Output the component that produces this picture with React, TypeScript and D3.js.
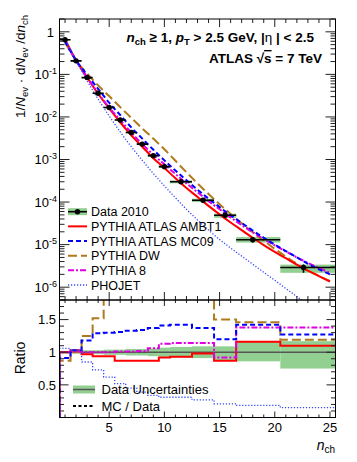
import React from 'react';
import * as d3 from 'd3';

// multiplicity points where the MC curves are read
const nValues = [1, 2, 3, 4, 5, 6, 7, 8, 9, 10, 11, 12, 13, 14, 15, 16, 17, 18, 19, 20, 21, 22, 23, 24, 25];

// MC predictions, 1/Nev dNev/dnch
const ambt1 = [0.661, 0.215, 0.0851, 0.035, 0.0158, 0.0075, 0.00372, 0.002, 0.00107, 6.31e-4, 3.63e-4, 2.14e-4, 1.32e-4, 8.13e-5, 5.13e-5, 3.31e-5, 2.19e-5, 1.45e-5, 9.77e-6, 6.76e-6, 4.79e-6, 3.39e-6, 2.45e-6, 1.82e-6, 1.35e-6];
const mc09 = [0.589, 0.214, 0.0977, 0.0457, 0.0216, 0.0111, 0.00569, 0.00309, 0.0017, 9.55e-4, 5.5e-4, 3.24e-4, 1.95e-4, 1.2e-4, 7.59e-5, 4.9e-5, 3.24e-5, 2.14e-5, 1.45e-5, 1.0e-5, 7.08e-6, 5.01e-6, 3.55e-6, 2.63e-6, 2.0e-6];
const dw = [0.566, 0.209, 0.105, 0.055, 0.0309, 0.017, 0.00955, 0.00537, 0.00309, 0.00174, 9.33e-4, 5.01e-4, 2.75e-4, 1.55e-4, 8.91e-5, 5.25e-5, 3.16e-5, 1.95e-5, 1.23e-5, 7.94e-6, 5.25e-6, 3.55e-6, 2.45e-6, 1.82e-6, 1.41e-6];
const pythia8 = [0.646, 0.209, 0.0841, 0.0363, 0.0166, 0.00851, 0.00427, 0.00229, 0.0013, 7.76e-4, 4.57e-4, 2.75e-4, 1.7e-4, 1.05e-4, 6.76e-5, 4.37e-5, 2.88e-5, 1.95e-5, 1.35e-5, 9.55e-6, 6.92e-6, 5.01e-6, 3.72e-6, 2.82e-6, 2.19e-6];
const phojet = [0.692, 0.214, 0.0708, 0.0263, 0.0105, 0.00447, 0.002, 9.55e-4, 4.68e-4, 2.4e-4, 1.26e-4, 6.76e-5, 3.8e-5, 2.19e-5, 1.32e-5, 8.32e-6, 5.37e-6, 3.47e-6, 2.24e-6, 1.45e-6, 9.33e-7, 6.03e-7, 3.89e-7];

// data bins
const binLo = [0.5, 1.5, 2.5, 3.5, 4.5, 5.5, 6.5, 7.5, 8.5, 9.5, 10.5, 12.5, 14.5, 16.5, 20.5];
const binHi = [1.5, 2.5, 3.5, 4.5, 5.5, 6.5, 7.5, 8.5, 9.5, 10.5, 12.5, 14.5, 16.5, 20.5, 25.5];
const dataN = [1, 2, 3, 4, 5, 6, 7, 8, 9, 10, 11.5, 13.5, 15.5, 18, 22.6];
const dataY = [0.65, 0.208, 0.084, 0.036, 0.0166, 0.0085, 0.0043, 0.0023, 0.00123, 6.8e-4, 3.0e-4, 1.1e-4, 4.9e-5, 1.3e-5, 2.9e-6];
const uncLo = [0.98, 0.98, 0.97, 0.97, 0.96, 0.96, 0.95, 0.95, 0.94, 0.93, 0.92, 0.91, 0.87, 0.86, 0.75];
const uncHi = [1.02, 1.02, 1.03, 1.03, 1.04, 1.04, 1.05, 1.05, 1.06, 1.07, 1.08, 1.09, 1.09, 1.16, 1.17];

// MC / data per bin
const ambt1Ratio = [1.0, 1.03, 0.97, 0.94, 0.94, 0.87, 0.87, 0.87, 0.87, 0.92, 0.93, 0.98, 0.87, 1.16, 1.10];
const mc09Ratio = [0.91, 1.03, 1.18, 1.29, 1.30, 1.31, 1.33, 1.34, 1.37, 1.41, 1.42, 1.37, 1.20, 1.42, 1.27];
const dwRatio = [0.87, 1.0, 1.25, 1.52, 1.9, 2.0, 2.1, 2.2, 2.3, 2.4, 2.2, 1.95, 1.50, 1.46, 1.19];
const p8Ratio = [1.0, 1.01, 1.0, 1.0, 1.0, 1.01, 1.01, 1.02, 1.06, 1.13, 1.14, 1.14, 0.92, 1.38, 1.38];
const phojetRatio = [1.06, 1.03, 0.85, 0.73, 0.62, 0.52, 0.45, 0.39, 0.34, 0.31, 0.31, 0.27, 0.21, 0.185, 0.15];

const yDecades = [0, -1, -2, -3, -4, -5, -6];
const ratioTickLabels = [0.5, 1, 1.5];
const xTickLabels = [5, 10, 15, 20, 25];

const FONT = 'Liberation Sans, Arial, Helvetica, sans-serif';
const GREEN = '#92d092';

const models = [
  { name: 'PYTHIA ATLAS AMBT1', values: ambt1, ratio: ambt1Ratio, color: '#ff0000', dash: '', width: 2 },
  { name: 'PYTHIA ATLAS MC09', values: mc09, ratio: mc09Ratio, color: '#0000ff', dash: '5,3', width: 2 },
  { name: 'PYTHIA DW', values: dw, ratio: dwRatio, color: '#b07a1a', dash: '9,4', width: 2 },
  { name: 'PYTHIA 8', values: pythia8, ratio: p8Ratio, color: '#e000e0', dash: '6,2,2,2', width: 2 },
  { name: 'PHOJET', values: phojet, ratio: phojetRatio, color: '#3344ff', dash: '1.2,1.8', width: 1.3 },
];
const drawOrder = [2, 0, 3, 1, 4];

export default function App() {
  const left = 59.5, right = 335.5, top = 19, mid = 300, bottom = 417.5;

  const x = d3.scaleLinear().domain([0.5, 25.5]).range([left, right]);
  const yTop = d3.scaleLog().domain([5e-7, 2]).range([mid, top]);
  const yRat = d3.scaleLinear().domain([0, 1.8]).range([bottom, mid]);

  // log minor ticks
  const logTicks: { v: number; major: boolean }[] = [];
  for (let e = -7; e <= 0; e++) {
    for (let m = 1; m <= 9; m++) {
      const v = m * Math.pow(10, e);
      if (v >= 5e-7 && v <= 2) logTicks.push({ v, major: m === 1 });
    }
  }
  const ratioTicks = d3.range(1, 18).map(k => ({ v: k / 10, major: k % 5 === 0 }));
  const xTicks = d3.range(1, 26).map(n => ({ v: n, major: n % 5 === 0 }));

  const curve = (vals: number[]) =>
    d3.line<number>()
      .x((d, i) => x(nValues[i]))
      .y(d => yTop(d))
      .curve(d3.curveCatmullRom)(vals) || '';

  const step = (r: number[]) => {
    const pts: [number, number][] = [[binLo[0], 0]];
    r.forEach((v, i) => { pts.push([binLo[i], v]); pts.push([binHi[i], v]); });
    return d3.line<[number, number]>().x(d => x(d[0])).y(d => yRat(d[1]))(pts) || '';
  };

  const legendY = (i: number) => 211.7 + i * 14.66;

  return (
    <svg width={357} height={462} style={{ position: 'absolute', left: 0, top: 0, background: '#fff' }} fontFamily={FONT}>
      <defs>
        <clipPath id="clipTop"><rect x={left} y={top} width={right - left} height={mid - top} /></clipPath>
        <clipPath id="clipRat"><rect x={left} y={mid} width={right - left} height={bottom - mid} /></clipPath>
      </defs>
      <rect width={357} height={462} fill="#fff" />

      {/* top panel */}
      <g clipPath="url(#clipTop)">
        {dataY.map((v, i) => (
          <rect key={'gb' + i} x={x(binLo[i])} width={x(binHi[i]) - x(binLo[i])}
            y={yTop(v * uncHi[i])} height={Math.max(1, yTop(v * uncLo[i]) - yTop(v * uncHi[i]))} fill={GREEN} />
        ))}
        {drawOrder.map(k => {
          const m = models[k];
          return <path key={'c' + k} d={curve(m.values)} fill="none" stroke={m.color} strokeWidth={m.width} strokeDasharray={m.dash} />;
        })}
        {dataY.map((v, i) => (
          <g key={'d' + i}>
            <line x1={x(binLo[i])} x2={x(binHi[i])} y1={yTop(v)} y2={yTop(v)} stroke="#000" strokeWidth={1.6} />
            <line x1={x(dataN[i])} x2={x(dataN[i])} y1={yTop(v * uncHi[i])} y2={yTop(v * uncLo[i])} stroke="#000" strokeWidth={1.6} />
            <circle cx={x(dataN[i])} cy={yTop(v)} r={2.7} fill="#000" />
          </g>
        ))}
      </g>

      {/* ratio panel */}
      <g clipPath="url(#clipRat)">
        {uncLo.map((lo, i) => (
          <rect key={'rb' + i} x={x(binLo[i])} width={x(binHi[i]) - x(binLo[i])}
            y={yRat(uncHi[i])} height={yRat(lo) - yRat(uncHi[i])} fill={GREEN} />
        ))}
        <line x1={left} x2={right} y1={yRat(1)} y2={yRat(1)} stroke="#555" strokeWidth={1.5} />
        {drawOrder.map(k => {
          const m = models[k];
          return <path key={'r' + k} d={step(m.ratio)} fill="none" stroke={m.color} strokeWidth={m.width} strokeDasharray={m.dash} />;
        })}
      </g>

      {/* ticks */}
      <g stroke="#222" strokeWidth={1}>
        {logTicks.map((t, i) => (
          <g key={'lt' + i}>
            <line x1={left} x2={left + (t.major ? 10 : 5)} y1={yTop(t.v)} y2={yTop(t.v)} />
            <line x1={right} x2={right - (t.major ? 10 : 5)} y1={yTop(t.v)} y2={yTop(t.v)} />
          </g>
        ))}
        {ratioTicks.map((t, i) => (
          <g key={'rt' + i}>
            <line x1={left} x2={left + (t.major ? 9 : 4.5)} y1={yRat(t.v)} y2={yRat(t.v)} />
            <line x1={right} x2={right - (t.major ? 9 : 4.5)} y1={yRat(t.v)} y2={yRat(t.v)} />
          </g>
        ))}
        {xTicks.map((t, i) => (
          <g key={'xt' + i}>
            <line x1={x(t.v)} x2={x(t.v)} y1={top} y2={top + (t.major ? 8 : 4)} />
            <line x1={x(t.v)} x2={x(t.v)} y1={mid} y2={mid - (t.major ? 8 : 4)} />
            <line x1={x(t.v)} x2={x(t.v)} y1={mid} y2={mid + (t.major ? 6 : 3)} />
            <line x1={x(t.v)} x2={x(t.v)} y1={bottom} y2={bottom - (t.major ? 6 : 3)} />
          </g>
        ))}
      </g>

      {/* frames */}
      <rect x={left} y={top} width={right - left} height={mid - top} fill="none" stroke="#000" strokeWidth={1} />
      <rect x={left} y={mid} width={right - left} height={bottom - mid} fill="none" stroke="#000" strokeWidth={1} />

      {/* tick labels */}
      <g fontSize={13} fill="#000">
        {yDecades.map(e => (
          e === 0
            ? <text key={'yl' + e} x={54} y={yTop(1) + 4.7} textAnchor="end">1</text>
            : <text key={'yl' + e} x={57} y={yTop(Math.pow(10, e)) + 4.7} textAnchor="end">10<tspan dy={-5} fontSize={9}>{String(e)}</tspan></text>
        ))}
        {ratioTickLabels.map(v => (
          <text key={'rl' + v} x={56} y={yRat(v) + 4.7} textAnchor="end">{String(v)}</text>
        ))}
        {xTickLabels.map(v => (
          <text key={'xl' + v} x={x(v)} y={431.5} textAnchor="middle">{String(v)}</text>
        ))}
      </g>

      {/* axis titles */}
      <text transform="translate(25,15) rotate(-90)" textAnchor="end" fontSize={13.5}>
        1/<tspan fontStyle="italic">N</tspan><tspan fontSize={9.5} dy={3}>ev</tspan><tspan dy={-3}> · d</tspan><tspan fontStyle="italic">N</tspan><tspan fontSize={9.5} dy={3}>ev</tspan><tspan dy={-3}> /d</tspan><tspan fontStyle="italic">n</tspan><tspan fontSize={9.5} dy={3}>ch</tspan>
      </text>
      <text transform="translate(25,358) rotate(-90)" textAnchor="middle" fontSize={14}>Ratio</text>
      <text x={335} y={450} textAnchor="end" fontSize={14}>
        <tspan fontStyle="italic">n</tspan><tspan fontSize={10} dy={3}>ch</tspan>
      </text>

      {/* header */}
      <text x={314} y={42} textAnchor="end" fontSize={13.5} fontWeight="bold">
        <tspan fontStyle="italic">n</tspan><tspan fontSize={9.5} dy={3}>ch</tspan><tspan dy={-3}> ≥ 1, </tspan><tspan fontStyle="italic">p</tspan><tspan fontSize={9.5} dy={3}>T</tspan><tspan dy={-3}> &gt; 2.5 GeV, |</tspan><tspan fontWeight="normal">η</tspan><tspan> | &lt; 2.5</tspan>
      </text>
      <text x={322} y={63} textAnchor="end" fontSize={13.5} fontWeight="bold">
        ATLAS √<tspan style={{ textDecoration: 'overline' }}>s</tspan> = 7 TeV
      </text>

      {/* top legend */}
      <g fontSize={12.5}>
        <rect x={68} y={legendY(0) - 3.5} width={19} height={7} fill={GREEN} />
        <line x1={68} x2={87} y1={legendY(0)} y2={legendY(0)} stroke="#000" strokeWidth={1.6} />
        <circle cx={77.5} cy={legendY(0)} r={2.7} fill="#000" />
        <text x={91} y={legendY(0) + 4.5}>Data 2010</text>
        {models.map((m, i) => (
          <g key={'lg' + i}>
            <line x1={68} x2={87} y1={legendY(i + 1)} y2={legendY(i + 1)} stroke={m.color} strokeWidth={m.width} strokeDasharray={m.dash} />
            <text x={91} y={legendY(i + 1) + 4.5}>{m.name}</text>
          </g>
        ))}
      </g>

      {/* ratio legend */}
      <g fontSize={13}>
        <rect x={73} y={385.5} width={22} height={8} fill={GREEN} />
        <line x1={73} x2={95} y1={389.5} y2={389.5} stroke="#555" strokeWidth={1.5} />
        <text x={101.5} y={394}>Data Uncertainties</text>
        <line x1={73} x2={95} y1={406} y2={406} stroke="#000" strokeWidth={2} strokeDasharray="3,2.5" />
        <text x={101.5} y={410.5}>MC / Data</text>
      </g>
    </svg>
  );
}
